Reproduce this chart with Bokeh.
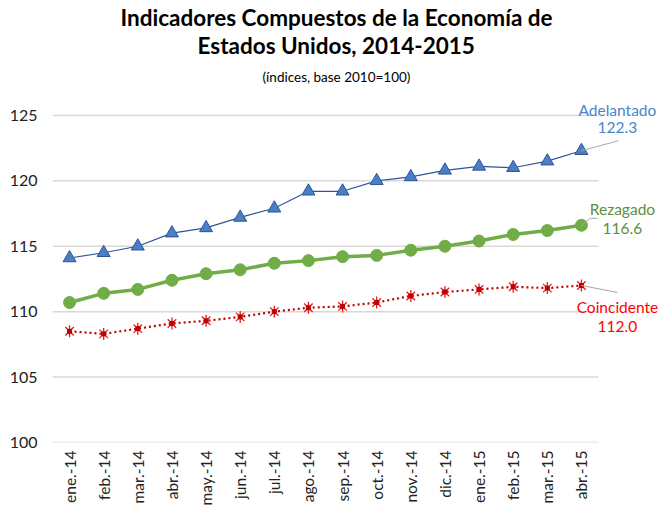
from bokeh.plotting import figure
from bokeh.models import Title, FixedTicker, ColumnDataSource
from bokeh.core.properties import value
from bokeh.embed import file_html
from bokeh.resources import INLINE
import math

months = ["ene.-14", "feb.-14", "mar.-14", "abr.-14", "may.-14", "jun.-14", "jul.-14", "ago.-14",
          "sep.-14", "oct.-14", "nov.-14", "dic.-14", "ene.-15", "feb.-15", "mar.-15", "abr.-15"]
adelantado = [114.1, 114.5, 115.0, 116.0, 116.4, 117.2, 117.9, 119.2,
              119.2, 120.0, 120.3, 120.8, 121.1, 121.0, 121.5, 122.3]
rezagado = [110.7, 111.4, 111.7, 112.4, 112.9, 113.2, 113.7, 113.9,
            114.2, 114.3, 114.7, 115.0, 115.4, 115.9, 116.2, 116.6]
coincidente = [108.5, 108.3, 108.7, 109.1, 109.3, 109.6, 110.0, 110.3,
               110.4, 110.7, 111.2, 111.5, 111.7, 111.9, 111.8, 112.0]
y_ticks = [100, 105, 110, 115, 120, 125]
series_names = ["Adelantado", "Rezagado", "Coincidente"]

FONT = "Lato"
x = list(range(len(months)))

p = figure(width=670, height=508, output_backend="svg", toolbar_location=None,
           x_range=(-0.5, 17.317), y_range=(100, 126.52), title=None,
           min_border_left=52, min_border_right=10, min_border_bottom=64, min_border_top=95)
p.outline_line_color = None
p.background_fill_color = "white"
p.border_fill_color = "white"

# titles (added bottom-up), left-aligned with offsets so they centre on the page
p.add_layout(Title(text="(índices, base 2010=100)", align="left", offset=210, text_font=FONT,
                   text_font_size="13.5px", text_font_style="normal", text_color="#000000",
                   standoff=21), "above")
p.add_layout(Title(text="Estados Unidos, 2014-2015", align="left", offset=145, text_font=FONT,
                   text_font_size="22.5px", text_font_style="bold", text_color="#000000",
                   standoff=-4), "above")
p.add_layout(Title(text="Indicadores Compuestos de la Economía de", align="left", offset=68, text_font=FONT,
                   text_font_size="22.5px", text_font_style="bold", text_color="#000000",
                   standoff=2), "above")

# grid
p.xgrid.visible = False
p.ygrid.visible = False
p.segment(x0=[-0.5] * len(y_ticks), x1=[len(months) - 0.5] * len(y_ticks),
          y0=y_ticks, y1=y_ticks, line_color="#D9D9D9", line_width=1.5)

# axes
p.xaxis.ticker = FixedTicker(ticks=x)
p.xaxis.major_label_overrides = {i: m for i, m in enumerate(months)}
p.xaxis.major_label_orientation = math.pi / 2
p.xaxis.axis_line_color = None
p.xaxis.major_tick_line_color = None
p.xaxis.minor_tick_line_color = None
p.xaxis.major_tick_out = 0
p.xaxis.major_tick_in = 0
p.xaxis.minor_tick_out = 0
p.xaxis.major_label_standoff = 8
p.xaxis.major_label_text_font = FONT
p.xaxis.major_label_text_font_size = "15.5px"
p.xaxis.major_label_text_color = "#222222"

p.yaxis.ticker = FixedTicker(ticks=y_ticks)
p.yaxis.axis_line_color = None
p.yaxis.major_tick_line_color = None
p.yaxis.minor_tick_line_color = None
p.yaxis.major_tick_out = 0
p.yaxis.major_tick_in = 0
p.yaxis.minor_tick_out = 0
p.yaxis.major_label_standoff = 15
p.yaxis.major_label_text_font = FONT
p.yaxis.major_label_text_font_size = "16px"
p.yaxis.major_label_text_color = "#222222"

# series
p.line(x, adelantado, line_color="#2F5597", line_width=1.2)
p.scatter(x, adelantado, marker="triangle", size=13, fill_color="#4A7FC6", line_color="#2F5597", line_width=1)

p.line(x, rezagado, line_color="#70AD47", line_width=3.5)
p.scatter(x, rezagado, marker="circle", size=12, fill_color="#70AD47", line_color="#70AD47")

p.line(x, coincidente, line_color="#C00000", line_width=2.2, line_dash="2 3")
p.scatter(x, coincidente, marker="x", size=12, line_color="#E02020", line_width=1.3)
p.scatter(x, coincidente, marker="dash", size=12, angle=math.pi / 2, line_color="#E02020", line_width=1.3)
p.scatter(x, coincidente, marker="square", size=4, fill_color="#C00000", line_color="#C00000")

# end labels
last = len(months) - 1
lasts = [adelantado[-1], rezagado[-1], coincidente[-1]]
label_colors = ["#4A86C8", "#5E8F3A", "#FF0000"]
px_x = 34.125
px_y = 13.16
name_dx = [36, 41, 36]
name_dy = [-41, -16, 22]
num_dy = [-23, 3, 41]
lead_pts = [[(0, 0), (37, -10)], [(0, 0), (9, -7), (16, -7)], [(0, 0), (36, 7)]]

for i in range(3):
    xs = [last + dx / px_x for dx, dy in lead_pts[i]]
    ys = [lasts[i] - dy / px_y for dx, dy in lead_pts[i]]
    p.line(xs, ys, line_color="#A6A6A6", line_width=1)

src = ColumnDataSource(dict(
    x=[last] * 3, y=lasts,
    name=series_names, num=[f"{v:.1f}" for v in lasts],
    color=label_colors, ndy=name_dy, vdy=num_dy, dx=name_dx))
p.text(x="x", y="y", text="name", x_offset="dx", y_offset="ndy", text_color="color",
       text_align="center", text_baseline="middle", text_font=value(FONT), text_font_size="15.5px", source=src)
p.text(x="x", y="y", text="num", x_offset="dx", y_offset="vdy", text_color="color",
       text_align="center", text_baseline="middle", text_font=value(FONT), text_font_size="15.5px", source=src)

open("out.html", "w").write(file_html(p, INLINE))
